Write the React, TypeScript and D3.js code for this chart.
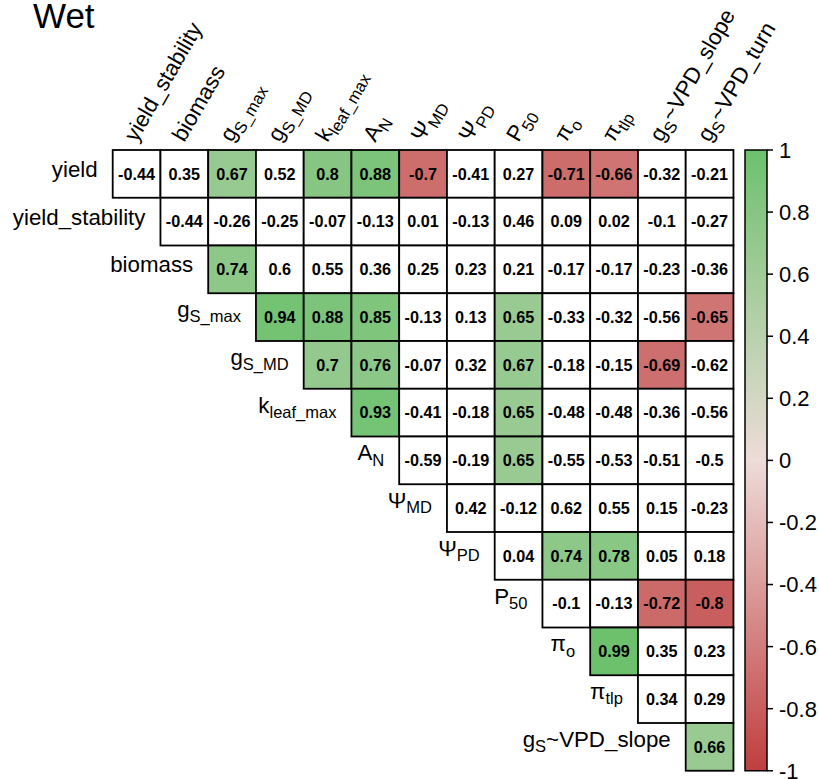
import React from 'react';
import * as d3 from 'd3';

// variables, with _{...} marking subscripts
const rowNames = ['yield', 'yield_stability', 'biomass', 'g_{S_max}', 'g_{S_MD}', 'k_{leaf_max}', 'A_{N}',
  'Ψ_{MD}', 'Ψ_{PD}', 'P_{50}', 'π_{o}', 'π_{tlp}', 'g_{S}~VPD_slope'];
const colNames = ['yield_stability', 'biomass', 'g_{S_max}', 'g_{S_MD}', 'k_{leaf_max}', 'A_{N}',
  'Ψ_{MD}', 'Ψ_{PD}', 'P_{50}', 'π_{o}', 'π_{tlp}', 'g_{S}~VPD_slope', 'g_{S}~VPD_turn'];

// upper triangle, row i starts at column i
const r_yield = [-0.44, 0.35, 0.67, 0.52, 0.8, 0.88, -0.7, -0.41, 0.27, -0.71, -0.66, -0.32, -0.21];
const r_yieldStability = [-0.44, -0.26, -0.25, -0.07, -0.13, 0.01, -0.13, 0.46, 0.09, 0.02, -0.1, -0.27];
const r_biomass = [0.74, 0.6, 0.55, 0.36, 0.25, 0.23, 0.21, -0.17, -0.17, -0.23, -0.36];
const r_gsMax = [0.94, 0.88, 0.85, -0.13, 0.13, 0.65, -0.33, -0.32, -0.56, -0.65];
const r_gsMD = [0.7, 0.76, -0.07, 0.32, 0.67, -0.18, -0.15, -0.69, -0.62];
const r_kleaf = [0.93, -0.41, -0.18, 0.65, -0.48, -0.48, -0.36, -0.56];
const r_AN = [-0.59, -0.19, 0.65, -0.55, -0.53, -0.51, -0.5];
const r_psiMD = [0.42, -0.12, 0.62, 0.55, 0.15, -0.23];
const r_psiPD = [0.04, 0.74, 0.78, 0.05, 0.18];
const r_P50 = [-0.1, -0.13, -0.72, -0.8];
const r_pio = [0.99, 0.35, 0.23];
const r_pitlp = [0.34, 0.29];
const r_slope = [0.66];

const rows = [r_yield, r_yieldStability, r_biomass, r_gsMax, r_gsMD, r_kleaf, r_AN,
  r_psiMD, r_psiPD, r_P50, r_pio, r_pitlp, r_slope];

const legendTicks = [1, 0.8, 0.6, 0.4, 0.2, 0, -0.2, -0.4, -0.6, -0.8, -1];
const sigLevel = 0.65; // only "significant" cells get a fill

const W = 819, H = 779;
const x0 = 112.7, y0 = 150, cs = 47.75;
const font = 'Liberation Sans, Arial, Helvetica, sans-serif';
const labSize = 22.3;

const color = d3.scaleLinear<string>()
  .domain([-1, 0, 1])
  .range(['#bf3e3e', '#eddcd8', '#6cc16c'])
  .interpolate(d3.interpolateRgb);

function parseLabel(s: string) {
  const parts: { t: string; sub: boolean }[] = [];
  const re = /_\{([^}]*)\}/g;
  let last = 0, m;
  while ((m = re.exec(s)) !== null) {
    if (m.index > last) parts.push({ t: s.slice(last, m.index), sub: false });
    parts.push({ t: m[1], sub: true });
    last = m.index + m[0].length;
  }
  if (last < s.length) parts.push({ t: s.slice(last), sub: false });
  return parts;
}

const hasSub = (s: string) => s.includes('_{');

function Label({ s, size }: { s: string; size: number }) {
  const parts = parseLabel(s);
  const shift = size * 0.24;
  let cur = 0;
  return (
    <>
      {parts.map((p, i) => {
        const target = p.sub ? shift : 0;
        const dy = target - cur;
        cur = target;
        return (
          <tspan key={i} dy={dy} fontSize={p.sub ? size * 0.74 : size}>{p.t}</tspan>
        );
      })}
    </>
  );
}

export default function App() {
  const x = d3.scaleBand().domain(colNames).range([x0, x0 + cs * colNames.length]);
  const y = d3.scaleBand().domain(rowNames).range([y0, y0 + cs * rowNames.length]);

  const cells: { r: number; c: number; v: number }[] = [];
  rows.forEach((vals, i) => vals.forEach((v, k) => cells.push({ r: i, c: i + k, v })));

  const barX = 745, barW = 22;
  const ly = d3.scaleLinear().domain([1, -1]).range([y0, y0 + cs * rowNames.length]);
  const stops = d3.range(0, 21).map(i => 1 - i / 10);

  return (
    <svg width={W} height={H} style={{ position: 'absolute', left: 0, top: 0, background: '#fff' }}
      fontFamily={font}>
      <defs>
        <linearGradient id="cbar" x1="0" y1="0" x2="0" y2="1">
          {stops.map((s, i) => (
            <stop key={i} offset={`${(i / 20) * 100}%`} stopColor={color(s)} />
          ))}
        </linearGradient>
      </defs>
      <text x={33} y={28} fontSize={35}>Wet</text>

      {cells.map((d, i) => {
        const cx = x(colNames[d.c])!, cy = y(rowNames[d.r])!;
        const fill = Math.abs(d.v) >= sigLevel ? color(d.v) : '#fff';
        return (
          <g key={i}>
            <rect x={cx} y={cy} width={x.bandwidth()} height={y.bandwidth()} fill={fill}
              stroke="#000" strokeWidth={1.8} />
            <text x={cx + cs / 2} y={cy + cs / 2 + 5.8} textAnchor="middle" fontSize={16.2}
              fontWeight="bold">{String(d.v)}</text>
          </g>
        );
      })}

      {rowNames.map((n, i) => (
        <text key={n} x={x(colNames[i])! - 15} y={y(n)! + cs / 2 + (hasSub(n) ? 0 : 3)}
          textAnchor="end" fontSize={labSize}>
          <Label s={n} size={labSize} />
        </text>
      ))}

      {colNames.map(n => {
        const cx = x(n)! + cs / 2;
        return (
          <text key={n} transform={`translate(${cx},${y0 - 7}) rotate(-60)`} fontSize={labSize}>
            <Label s={n} size={labSize} />
          </text>
        );
      })}

      <rect x={barX} y={ly(1)} width={barW} height={ly(-1) - ly(1)} fill="url(#cbar)"
        stroke="#000" strokeWidth={1.5} />
      {legendTicks.map(t => (
        <g key={t} transform={`translate(${barX + barW},${ly(t)})`}>
          <line x1={0} x2={6} stroke="#000" strokeWidth={1.5} />
          <text x={12} dy="0.36em" fontSize={22}>{String(t)}</text>
        </g>
      ))}
    </svg>
  );
}
